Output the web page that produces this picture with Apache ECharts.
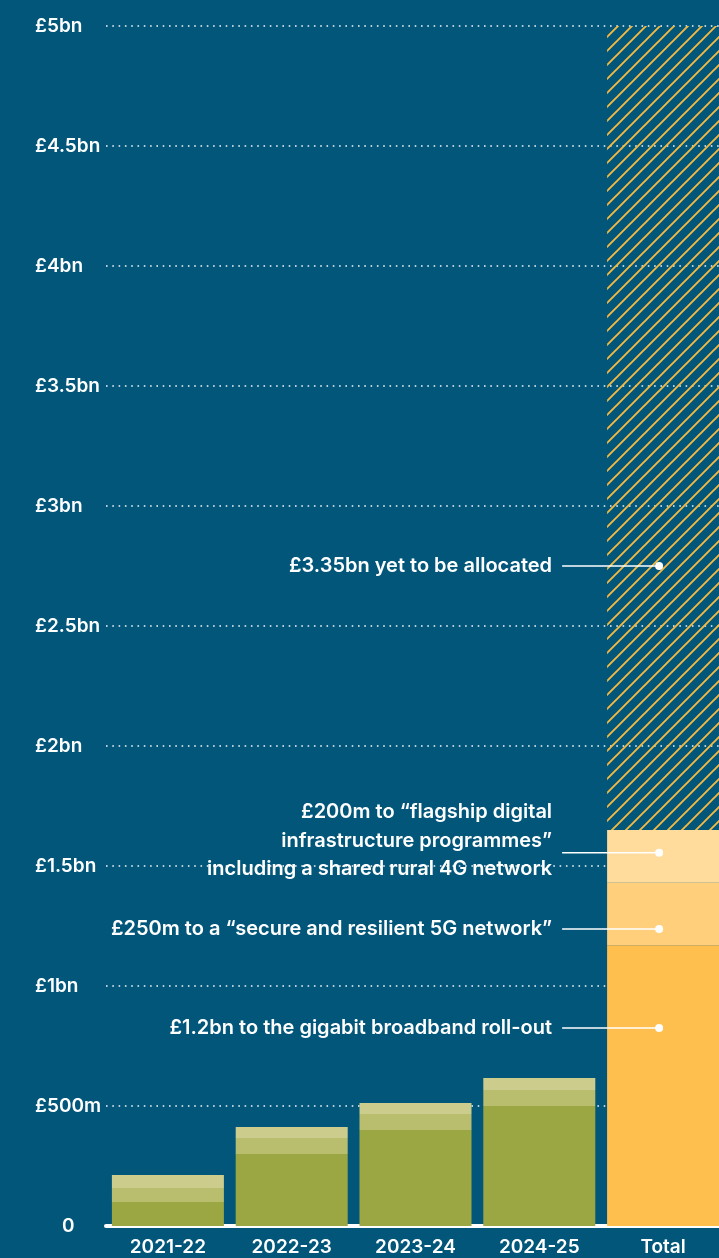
<!DOCTYPE html>
<html lang="en">

<head>
    <meta charset="UTF-8">
    <title>Digital infrastructure funding</title>
    <style>
        html, body { margin: 0; padding: 0; background: #01567a; }
    </style>
</head>

<body>
    <div id="main" style="width: 719px; height: 1258px"></div>
    <script src="https://cdn.jsdelivr.net/npm/echarts@6/dist/echarts.min.js"></script>
    <script type="text/javascript">
        // data (£m)
        var categories = ['2021-22', '2022-23', '2023-24', '2024-25', 'Total'];
        var gigabit = [100, 300, 400, 500, 1170];
        var fiveG = [58, 67, 67, 67, 260];
        var flagship = [54, 46, 46, 50, 220];
        var unallocated = [null, null, null, null, 3350];

        var yTicks = [0, 500, 1000, 1500, 2000, 2500, 3000, 3500, 4000, 4500, 5000];
        var yTickLabels = ['0', '£500m', '£1bn', '£1.5bn', '£2bn', '£2.5bn', '£3bn', '£3.5bn', '£4bn', '£4.5bn', '£5bn'];

        // annotations on the Total column: [line value, text value, text]
        var notes = [
            [2750, 2750, '£3.35bn yet to be allocated'],
            [1555, 1606, '£200m to “flagship digital\ninfrastructure programmes”\nincluding a shared rural 4G network'],
            [1237, 1237, '£250m to a “secure and resilient 5G network”'],
            [825, 825, '£1.2bn to the gigabit broadband roll-out']
        ];

        var greens = ['#9ba743', '#b9bd6e', '#cccd8c'];
        var yellows = ['#ffbf4f', '#ffcf7b', '#ffdc9b'];

        // hatch pattern for the unallocated part
        var tile = document.createElement('canvas');
        tile.width = 14;
        tile.height = 14;
        var ctx = tile.getContext('2d');
        ctx.strokeStyle = '#f6b940';
        ctx.lineWidth = 1.9;
        ctx.beginPath();
        ctx.moveTo(-2, 16); ctx.lineTo(16, -2);
        ctx.moveTo(-2, 2); ctx.lineTo(2, -2);
        ctx.moveTo(12, 16); ctx.lineTo(16, 12);
        ctx.stroke();

        function paint(values, idx) {
            return values.map(function (v, i) {
                return {
                    value: v,
                    itemStyle: { color: i === 4 ? yellows[idx] : greens[idx] }
                };
            });
        }

        var font = 'Inter, "Noto Sans", sans-serif';
        var fs = 19;
        var myChart = echarts.init(document.getElementById('main'));

        var option = {
            backgroundColor: '#01567a',
            animation: false,
            grid: { left: 106, top: 26, width: 619, height: 1200, outerBoundsMode: 'none', containLabel: false },
            xAxis: {
                type: 'category',
                data: categories,
                offset: 3,
                axisLine: { lineStyle: { color: '#ffffff', width: 4 } },
                axisTick: { show: false },
                axisLabel: {
                    color: '#ffffff', fontFamily: font, fontWeight: 600, fontSize: fs, margin: 9
                }
            },
            yAxis: {
                type: 'value',
                min: 0,
                max: 5000,
                interval: 500,
                axisLine: { show: false },
                axisTick: { show: false },
                splitLine: {
                    lineStyle: { color: '#ffffff', width: 1.6, type: [1.6, 4.7], opacity: 0.95 }
                },
                axisLabel: {
                    align: 'left',
                    margin: 71,
                    color: '#ffffff', fontFamily: font, fontWeight: 600, fontSize: fs,
                    formatter: function (v) {
                        var s = yTickLabels[yTicks.indexOf(v)];
                        return v === 0 ? '{z|' + s + '}' : s;
                    },
                    rich: {
                        z: { padding: [0, 0, 0, 27], color: '#ffffff', fontFamily: font, fontWeight: 600, fontSize: fs }
                    }
                }
            },
            series: [{
                name: 'gigabit',
                type: 'bar',
                stack: 'all',
                barWidth: 112,
                data: paint(gigabit, 0)
            }, {
                name: '5G',
                type: 'bar',
                stack: 'all',
                barWidth: 112,
                data: paint(fiveG, 1)
            }, {
                name: 'flagship',
                type: 'bar',
                stack: 'all',
                barWidth: 112,
                data: paint(flagship, 2)
            }, {
                name: 'unallocated',
                type: 'bar',
                stack: 'all',
                barWidth: 112,
                itemStyle: { color: { image: tile, repeat: 'repeat' } },
                data: unallocated
            }, {
                name: 'notes',
                type: 'custom',
                z: 10,
                data: notes.map(function (n) { return [4, n[0], n[1]]; }),
                renderItem: function (params, api) {
                    var n = notes[params.dataIndex];
                    var p = api.coord([4, api.value(1)]);
                    var t = api.coord([4, api.value(2)]);
                    return {
                        type: 'group',
                        children: [{
                            type: 'line',
                            shape: { x1: p[0] - 101, y1: p[1], x2: p[0] - 4, y2: p[1] },
                            style: { stroke: '#ffffff', lineWidth: 1.5 }
                        }, {
                            type: 'circle',
                            shape: { cx: p[0] - 4, cy: p[1], r: 4 },
                            style: { fill: '#ffffff' }
                        }, {
                            type: 'text',
                            x: p[0] - 111,
                            y: t[1],
                            style: {
                                text: n[2],
                                fill: '#ffffff',
                                font: '600 20px ' + font,
                                align: 'right',
                                verticalAlign: 'middle',
                                lineHeight: 28.5
                            }
                        }]
                    };
                }
            }]
        };
        myChart.setOption(option);

        window.onresize = function () {
            myChart.resize();
        };
    </script>

</body>

</html>
